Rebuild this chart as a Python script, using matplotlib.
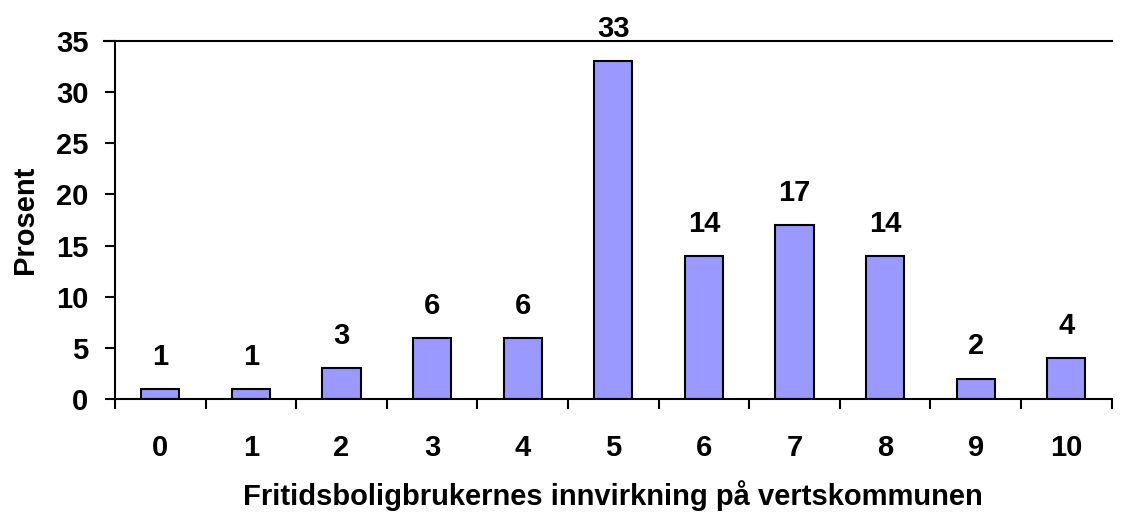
import matplotlib

matplotlib.use("Agg")
import matplotlib.pyplot as plt
import numpy as np

# values
categories = ["0", "1", "2", "3", "4", "5", "6", "7", "8", "9", "10"]
percent = [1, 1, 3, 6, 6, 33, 14, 17, 14, 2, 4]
y_ticks = [0, 5, 10, 15, 20, 25, 30, 35]

plt.rcParams["font.family"] = ["Liberation Sans", "DejaVu Sans"]
plt.rcParams["font.weight"] = "bold"
FS = 21

fig = plt.figure(figsize=(11.24, 5.12), dpi=100)
ax = fig.add_axes([0.1023, 0.2207, 0.8867, 0.6993])

x = np.arange(len(categories))
ax.bar(x, percent, width=0.42, color="#9999FF", edgecolor="black", linewidth=1.5)
for xi, v in zip(x, percent):
    ax.annotate(str(v), (xi, v), xytext=(0, 13), textcoords="offset points",
                ha="center", va="bottom", fontsize=FS, fontweight="bold")

ax.set_xlim(-0.5, len(categories) - 0.5)
ax.set_ylim(0, 35)
ax.set_yticks(y_ticks)
ax.set_yticklabels([str(t) for t in y_ticks], fontsize=FS, fontweight="bold")
ax.set_xticks(x)
ax.set_xticklabels(categories, fontsize=FS, fontweight="bold")
ax.set_xticks(np.arange(len(categories) + 1) - 0.5, minor=True)
ax.tick_params(axis="x", which="major", length=0, pad=25)
ax.tick_params(axis="x", which="minor", length=7, width=1.5, direction="out")
ax.tick_params(axis="y", length=7, width=1.5, direction="out", pad=12)

ax.axhline(35, color="black", lw=1.5, xmin=-0.011, clip_on=False)
for s in ("top", "right"):
    ax.spines[s].set_visible(False)
for s in ("left", "bottom"):
    ax.spines[s].set_linewidth(1.5)

ax.set_ylabel("Prosent", fontsize=FS, fontweight="bold", labelpad=12)
ax.set_xlabel("Fritidsboligbrukernes innvirkning på vertskommunen", fontsize=FS,
              fontweight="bold", labelpad=13)

fig.savefig("out.png", dpi=100)
